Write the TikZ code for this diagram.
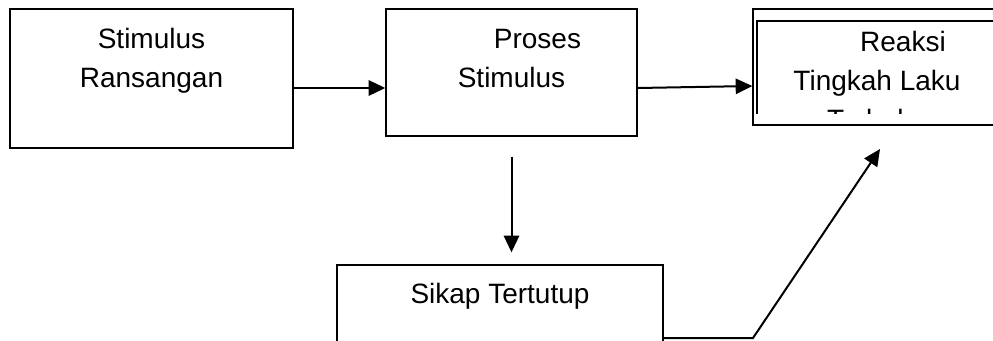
\documentclass[tikz,border=0pt]{standalone}
\usepackage{fontspec}
\setmainfont{Liberation Sans}
\usetikzlibrary{arrows.meta}

\tikzset{
  kotak/.style={rectangle, draw, line width=1pt, inner sep=0pt},
  teks/.style={font=\fontsize{21}{29.25}\selectfont, align=center, anchor=base, inner sep=0pt},
  panah/.style={-{Stealth[inset=0pt,length=12.5pt,width=11.5pt]}, line width=1.5pt}
}

\begin{document}
\begin{tikzpicture}[x=0.75pt,y=-0.75pt]
        \useasboundingbox (0,0) rectangle (993,340);
        \clip (0,0) rectangle (993,340);

        \node[kotak, minimum width=212.25pt, minimum height=104.25pt] (stimulus) at (151.5,78.5) {};
        \node[kotak, minimum width=188.25pt, minimum height=95.25pt] (proses) at (511.5,72.5) {};
        \node[kotak, minimum width=185.25pt, minimum height=87pt] (reaksi) at (876.5,67) {};
        \node[kotak, minimum width=244.5pt, minimum height=63.75pt] (sikap) at (500,307.5) {};
        \draw[line width=1pt] (1000,21) -| (757,113.5);

        % base anchor sits on the last line
        \node[teks] (tstimulus) at (151.5,87) {Stimulus\\Ransangan};
        \node[teks] (tproses) at (511.5,87) {\hspace*{39pt}Proses\\Stimulus};
        \begin{scope}
          \clip (755,0) rectangle (993,113.5);
          \node[teks] (treaksi) at (877,129) {\hspace*{39pt}Reaksi\\Tingkah Laku\\Terbuka};
        \end{scope}
        \node[teks] (tsikap) at (500,303) {Sikap Tertutup};

        \coordinate (siku) at (753,338);
        \coordinate (ujung) at (880,149);
        \draw[panah] (stimulus.east |- 0,88) -- (proses.west |- 0,88);
        \draw[panah] (proses.east |- 0,88) -- (reaksi.west |- 0,86);
        \draw[panah, shorten <=15pt, shorten >=9pt] (proses.south) -- (proses.south |- sikap.north);
        \draw[panah] (sikap.east |- siku) -- (siku) -- (ujung);

    \end{tikzpicture}
\end{document}
